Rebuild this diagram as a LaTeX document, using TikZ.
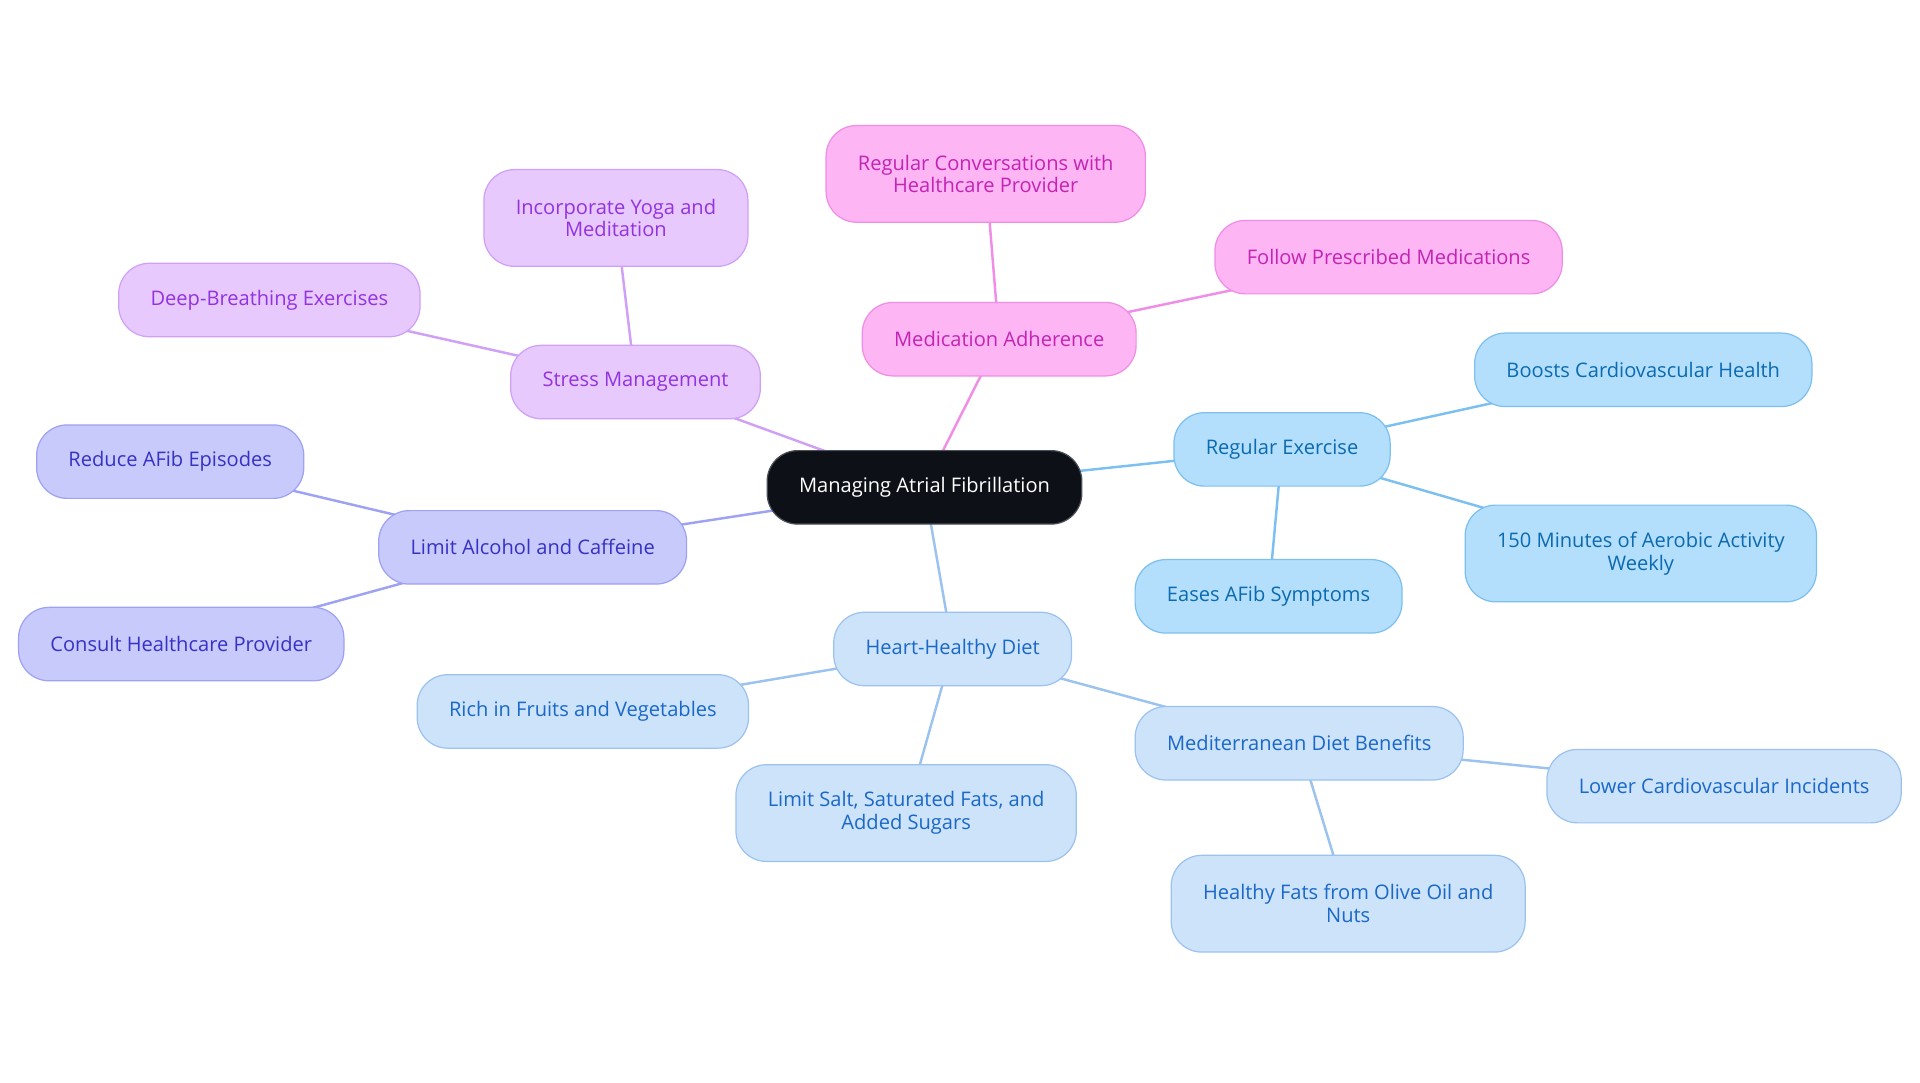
\documentclass[tikz,border=0pt]{standalone}
\usepackage{fontspec}
\setmainfont{Open Sans}
\usetikzlibrary{backgrounds}

\definecolor{rootfill}{HTML}{0D1117}
\definecolor{rootline}{HTML}{4A4F57}
\definecolor{pinkfill}{HTML}{FDB5F3}
\definecolor{pinkline}{HTML}{F08DE6}
\definecolor{pinktext}{HTML}{C424B4}
\definecolor{purpfill}{HTML}{E8C9FD}
\definecolor{purpline}{HTML}{CFA0F6}
\definecolor{purptext}{HTML}{9233E0}
\definecolor{indfill}{HTML}{C8CAFC}
\definecolor{indline}{HTML}{9EA2F4}
\definecolor{indtext}{HTML}{3632C4}
\definecolor{skyfill}{HTML}{B4DFFC}
\definecolor{skyline}{HTML}{7CC0F1}
\definecolor{skytext}{HTML}{0B6AB0}
\definecolor{bluefill}{HTML}{CDE3FA}
\definecolor{blueline}{HTML}{9CC3F0}
\definecolor{bluetext}{HTML}{1A68C8}

\tikzset{
  box/.style={rectangle, rounded corners=25pt, draw, line width=1pt,
    minimum height=60pt, inner xsep=26pt, align=center,
    font=\fontsize{16.4}{18.5}\selectfont},
  tall/.style={minimum height=79pt},
  rootbox/.style={box, fill=rootfill, draw=rootline, text=white},
  pinkbox/.style={box, fill=pinkfill, draw=pinkline, text=pinktext},
  purpbox/.style={box, fill=purpfill, draw=purpline, text=purptext},
  indbox/.style={box, fill=indfill, draw=indline, text=indtext},
  skybox/.style={box, fill=skyfill, draw=skyline, text=skytext},
  bluebox/.style={box, fill=bluefill, draw=blueline, text=bluetext}
}

\begin{document}
\begin{tikzpicture}[x=1pt, y=-1pt]
   \useasboundingbox (0,0) rectangle (1568,884);

   \node[rootbox] (root) at (755,398) {Managing Atrial Fibrillation};

   % medication
   \node[pinkbox] (med) at (816,277) {Medication Adherence};
   \node[pinkbox, tall] (med1) at (805,142) {Regular Conversations with\\Healthcare Provider};
   \node[pinkbox] (med2) at (1134,210) {Follow Prescribed Medications};

   % stress
   \node[purpbox] (stress) at (519,312) {Stress Management};
   \node[purpbox, tall] (stress1) at (503,178) {Incorporate Yoga and\\Meditation};
   \node[purpbox] (stress2) at (220,245) {Deep-Breathing Exercises};

   % alcohol
   \node[indbox] (alc) at (435,447) {Limit Alcohol and Caffeine};
   \node[indbox] (alc1) at (139,377) {Reduce AFib Episodes};
   \node[indbox] (alc2) at (148,526) {Consult Healthcare Provider};

   % exercise
   \node[skybox] (ex) at (1047,367) {Regular Exercise};
   \node[skybox] (ex1) at (1342,302) {Boosts Cardiovascular Health};
   \node[skybox, tall] (ex2) at (1340,452) {150 Minutes of Aerobic Activity\\Weekly};
   \node[skybox] (ex3) at (1036,487) {Eases AFib Symptoms};

   % diet
   \node[bluebox] (diet) at (778,530) {Heart-Healthy Diet};
   \node[bluebox] (diet1) at (476,581) {Rich in Fruits and Vegetables};
   \node[bluebox, tall] (diet2) at (740,664) {Limit Salt, Saturated Fats, and\\Added Sugars};
   \node[bluebox] (diet3) at (1061,607) {Mediterranean Diet Benefits};
   \node[bluebox] (diet4) at (1408,642) {Lower Cardiovascular Incidents};
   \node[bluebox, tall] (diet5) at (1101,738) {Healthy Fats from Olive Oil and\\Nuts};

   \begin{pgfonlayer}{background}
   \fill[white] (0,0) rectangle (1568,884);
   \begin{scope}[every edge/.style={draw=pinkline, line width=2pt}]
    \draw (root.center) edge (med.center);
    \draw (med.center) edge (med1.center);
    \draw (med.center) edge (med2.center);
   \end{scope}
   \begin{scope}[every edge/.style={draw=purpline, line width=2pt}]
    \draw (root.center) edge (stress.center);
    \draw (stress.center) edge (stress1.center);
    \draw (stress.center) edge (stress2.center);
   \end{scope}
   \begin{scope}[every edge/.style={draw=indline, line width=2pt}]
    \draw (root.center) edge (alc.center);
    \draw (alc.center) edge (alc1.center);
    \draw (alc.center) edge (alc2.center);
   \end{scope}
   \begin{scope}[every edge/.style={draw=skyline, line width=2pt}]
    \draw (root.center) edge (ex.center);
    \draw (ex.center) edge (ex1.center);
    \draw (ex.center) edge (ex2.center);
    \draw (ex.center) edge (ex3.center);
   \end{scope}
   \begin{scope}[every edge/.style={draw=blueline, line width=2pt}]
    \draw (root.center) edge (diet.center);
    \draw (diet.center) edge (diet1.center);
    \draw (diet.center) edge (diet2.center);
    \draw (diet.center) edge (diet3.center);
    \draw (diet3.center) edge (diet4.center);
    \draw (diet3.center) edge (diet5.center);
   \end{scope}
   \end{pgfonlayer}
\end{tikzpicture}
\end{document}
